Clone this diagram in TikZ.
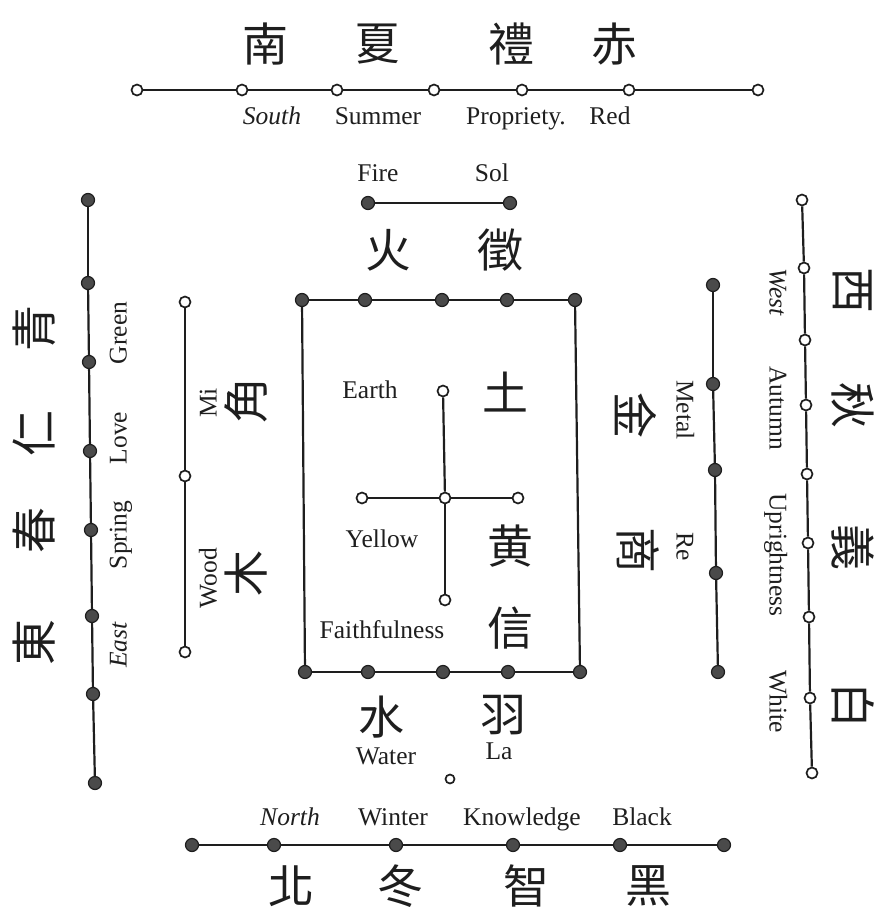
\documentclass[tikz,border=0pt]{standalone}
\usepackage{fontspec}
\setmainfont{Liberation Serif}
\newfontfamily\hanzi{Noto Sans CJK TC}
\usepackage{tikz}
\usetikzlibrary{positioning}
\definecolor{inkcolor}{HTML}{1E1E1E}
\definecolor{dotcolor}{HTML}{4A4A4A}
\newcommand{\LabelFont}{\fontsize{25.5pt}{27pt}\selectfont}
\newcommand{\HanziFont}{\hanzi\fontsize{46pt}{50pt}\selectfont}
\tikzset{
  open dot/.style={
    draw=inkcolor, fill=white, circle, line width=1.7pt,
    minimum size=11pt, inner sep=0pt
  },
  solid dot/.style={
    draw=inkcolor, fill=dotcolor, circle, line width=1.2pt,
    minimum size=13pt, inner sep=0pt
  },
  rod/.style={draw=inkcolor, line width=2.2pt},
  label text/.style={font=\LabelFont, inner sep=0pt, text=inkcolor,
    text height=19pt, text depth=4pt},
  hanzi text/.style={font=\HanziFont, inner sep=0pt, text=inkcolor}
}

\begin{document}
\begin{tikzpicture}[x=1pt, y=-1pt]
  \useasboundingbox (0,0) rectangle (889,915);

  % south: top row
  \foreach \x [count=\i] in {137,242,337,434,522,629,758}
    \node[open dot] (south-\i) at (\x,90) {};
  \foreach \i [evaluate=\i as \j using int(\i+1)] in {1,...,6}
    \draw[rod] (south-\i) -- (south-\j);
  \foreach \x/\txt/\nm in {265/南/nan, 377/夏/xia, 511/禮/li, 614/赤/chi}
    \node[hanzi text] (south-char-\nm) at (\x,44) {\txt};
  \foreach \x/\txt/\nm in {272/\textit{South}/south, 378/Summer/summer,
                           516/Propriety./propriety, 610/Red/red}
    \node[label text] (south-label-\nm) at (\x,117) {\txt};

  % fire and sol
  \node[solid dot] (fire-1) at (368,203) {};
  \node[solid dot] (fire-2) at (510,203) {};
  \draw[rod] (fire-1) -- (fire-2);
  \node[label text] (fire-label) at (378,174) {Fire};
  \node[label text] (sol-label) at (492,174) {Sol};
  \node[hanzi text] (fire-char) at (388,250) {火};
  \node[hanzi text] (sol-char) at (500,250) {徵};

  % central box
  \foreach \x [count=\i] in {302,365,442,507,575}
    \node[solid dot] (box-top-\i) at (\x,300) {};
  \foreach \x [count=\i] in {305,368,443,508,580}
    \node[solid dot] (box-bot-\i) at (\x,672) {};
  \foreach \i [evaluate=\i as \j using int(\i+1)] in {1,...,4} {
    \draw[rod] (box-top-\i) -- (box-top-\j);
    \draw[rod] (box-bot-\i) -- (box-bot-\j);
  }
  \draw[rod] (box-top-1) -- (box-bot-1);
  \draw[rod] (box-top-5) -- (box-bot-5);

  % earth cross
  \node[open dot] (earth-top) at (443,391) {};
  \node[open dot] (earth-mid) at (445,498) {};
  \node[open dot] (earth-left) at (362,498) {};
  \node[open dot] (earth-right) at (518,498) {};
  \node[open dot] (earth-bot) at (445,600) {};
  \foreach \nm in {top,left,right,bot}
    \draw[rod] (earth-mid) -- (earth-\nm);
  \node[label text] (earth-label) at (370,391) {Earth};
  \node[label text] (yellow-label) at (382,540) {Yellow};
  \node[label text] (faith-label) at (382,631) {Faithfulness};
  \node[hanzi text] (earth-char) at (505,392) {土};
  \node[hanzi text] (yellow-char) at (510,546) {黄};
  \node[hanzi text] (faith-char) at (510,628) {信};

  % water and la
  \node[hanzi text] (water-char) at (381,717) {水};
  \node[hanzi text] (la-char) at (503,715) {羽};
  \node[label text] (water-label) at (386,757) {Water};
  \node[label text] (la-label) at (499,752) {La};
  \node[open dot, minimum size=9pt] (water-dot) at (450,779) {};

  % north: bottom row
  \foreach \x [count=\i] in {192,274,396,513,620,724}
    \node[solid dot] (north-\i) at (\x,845) {};
  \foreach \i [evaluate=\i as \j using int(\i+1)] in {1,...,5}
    \draw[rod] (north-\i) -- (north-\j);
  \foreach \x/\txt/\nm in {290/\textit{North}/north, 393/Winter/winter,
                           522/Knowledge/knowledge, 642/Black/black}
    \node[label text] (north-label-\nm) at (\x,818) {\txt};
  \foreach \x/\txt/\nm in {291/北/bei, 400/冬/dong, 526/智/zhi, 648/黑/hei}
    \node[hanzi text] (north-char-\nm) at (\x,886) {\txt};

  % east: left side
  \foreach \x/\y [count=\i] in {88/200,88/283,89/362,90/451,91/530,92/616,93/694,95/783}
    \node[solid dot] (east-\i) at (\x,\y) {};
  \foreach \i [evaluate=\i as \j using int(\i+1)] in {1,...,7}
    \draw[rod] (east-\i) -- (east-\j);
  \foreach \y/\txt/\nm in {333/Green/green, 438/Love/love, 535/Spring/spring,
                           645/\textit{East}/east}
    \node[label text, rotate=90] (east-label-\nm) at (119,\y) {\txt};
  \foreach \y/\txt/\nm in {328/青/qing, 433/仁/ren, 530/春/chun, 642/東/dong}
    \node[hanzi text, rotate=90] (east-char-\nm) at (34,\y) {\txt};

  % wood
  \foreach \y [count=\i] in {302,476,652}
    \node[open dot] (wood-\i) at (185,\y) {};
  \draw[rod] (wood-1) -- (wood-2);
  \draw[rod] (wood-2) -- (wood-3);
  \node[label text, rotate=90] (mi-label) at (209,403) {Mi};
  \node[label text, rotate=90] (wood-label) at (209,578) {Wood};
  \node[hanzi text, rotate=90] (mi-char) at (246,400) {角};
  \node[hanzi text, rotate=90] (wood-char) at (246,573) {木};

  % metal
  \foreach \x/\y [count=\i] in {713/285,713/384,715/470,716/573,718/672}
    \node[solid dot] (metal-\i) at (\x,\y) {};
  \foreach \i [evaluate=\i as \j using int(\i+1)] in {1,...,4}
    \draw[rod] (metal-\i) -- (metal-\j);
  \node[label text, rotate=-90] (metal-label) at (684,410) {Metal};
  \node[label text, rotate=-90] (re-label) at (684,547) {Re};
  \node[hanzi text, rotate=-90] (metal-char) at (636,415) {金};
  \node[hanzi text, rotate=-90] (re-char) at (638,550) {商};

  % west: right side
  \foreach \x/\y [count=\i] in {802/200,804/268,805/340,806/405,807/474,808/543,809/617,810/698,812/773}
    \node[open dot] (west-\i) at (\x,\y) {};
  \foreach \i [evaluate=\i as \j using int(\i+1)] in {1,...,8}
    \draw[rod] (west-\i) -- (west-\j);
  \foreach \y/\txt/\nm in {292/\textit{West}/west, 408/Autumn/autumn,
                           555/Uprightness/upright, 702/White/white}
    \node[label text, rotate=-90] (west-label-\nm) at (777,\y) {\txt};
  \foreach \y/\txt/\nm in {290/西/xi, 405/秋/qiu, 547/義/yi, 705/白/bai}
    \node[hanzi text, rotate=-90] (west-char-\nm) at (853,\y) {\txt};
\end{tikzpicture}
\end{document}
